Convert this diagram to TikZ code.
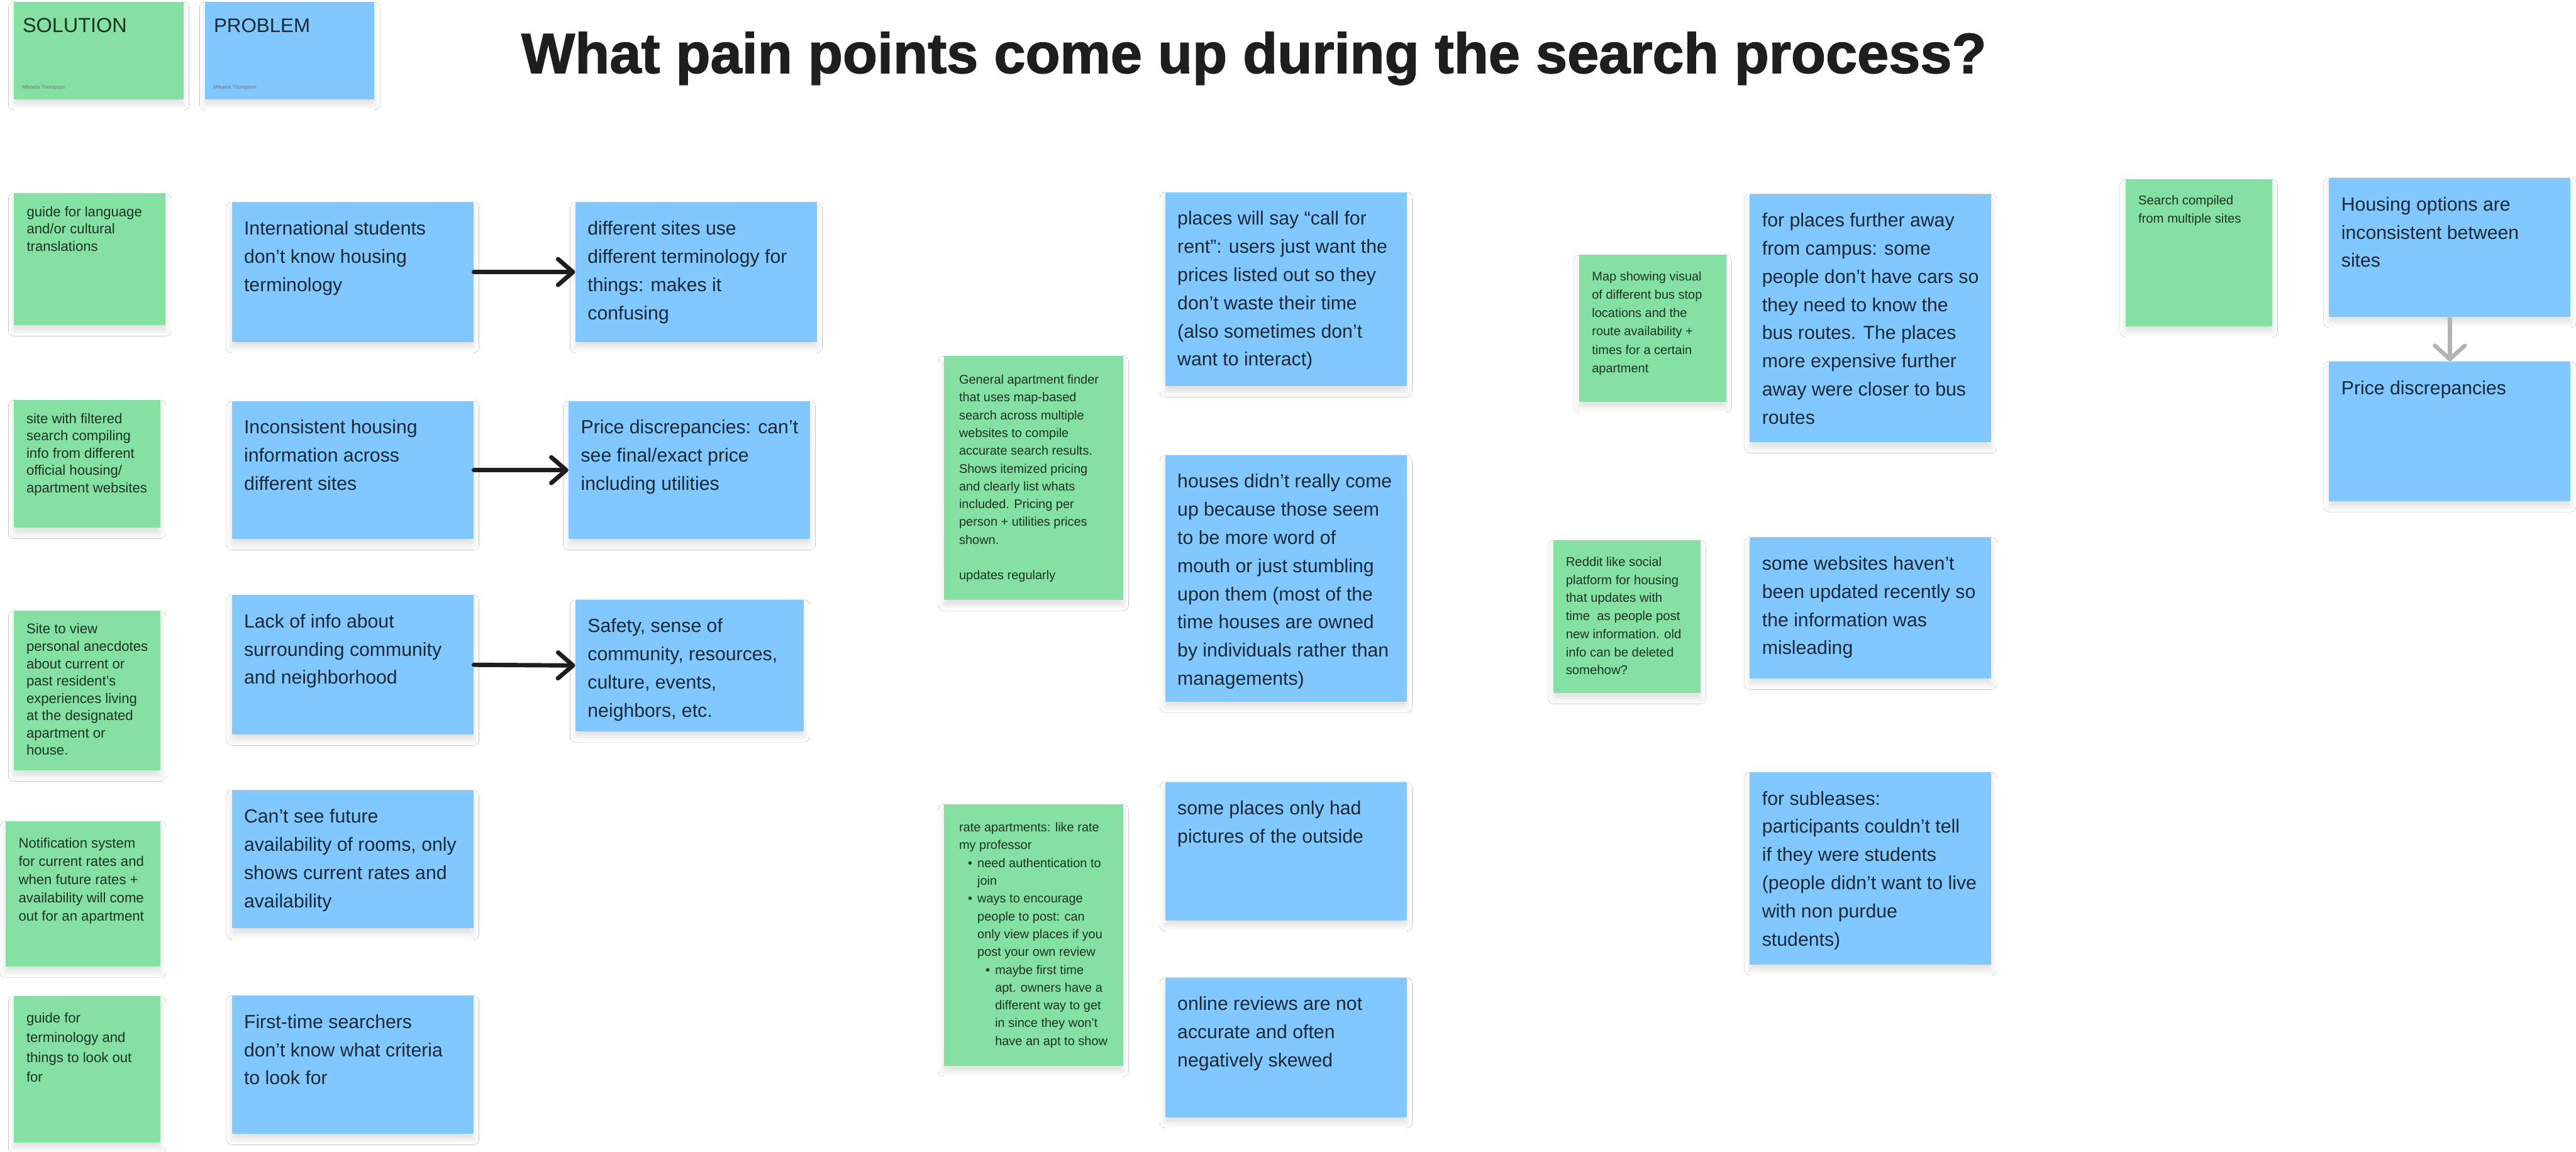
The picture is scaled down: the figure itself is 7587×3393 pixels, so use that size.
\documentclass[tikz,border=0pt]{standalone}
\usepackage{fontspec}
\setmainfont{Liberation Sans}
\newfontfamily\titlefont{Liberation Sans}[BoldFeatures={FakeBold=1.6}]
\usetikzlibrary{arrows.meta,calc,shadows.blur}
\definecolor{sgreen}{HTML}{85E0A3}
\definecolor{sblue}{HTML}{80C8FF}
\definecolor{gtext}{HTML}{1C3322}
\definecolor{btext}{HTML}{1B2836}
\definecolor{arrgray}{HTML}{B3B3B3}
\definecolor{ttext}{HTML}{1E1E1E}
\newcommand\fb{\fontsize{14}{20.75}\selectfont}
\newcommand\fm{\fontsize{9.25}{13.1}\selectfont}
\newcommand\fg[1]{\fontsize{10.25}{#1}\selectfont}
\newcommand\bul[2]{\hspace*{#1}\makebox[7pt][l]{•}#2}
\newcommand\note[6]{\node[#1, minimum width=#5*0.25pt, minimum height=#6*0.25pt] (#2) at (#3,#4) {};}
\newcommand\ntext[6]{\node[#1] (#2) at ($(#3.north west)+(#4,#5)$) {#6};}
\tikzset{
  notebase/.style={rectangle, inner sep=0pt, draw=none, anchor=north west,
    blur shadow={shadow xshift=0pt, shadow yshift=-4pt, shadow blur radius=4pt, shadow opacity=12}},
  gnote/.style={notebase, fill=sgreen},
  bnote/.style={notebase, fill=sblue},
  ntxt/.style={anchor=base west, inner sep=0pt},
  gtxt/.style={ntxt, text=gtext},
  btxt/.style={ntxt, text=btext},
  link/.style={line width=3.2pt, ttext, line cap=round, -{Straight Barb[round, length=11pt, width=19pt]}},
  glink/.style={line width=3pt, arrgray, line cap=round, -{Straight Barb[round, length=10pt, width=22pt]}},
}
\begin{document}
\begin{tikzpicture}[x=0.25pt, y=-0.25pt]
\useasboundingbox (0,0) rectangle (7587,3393);
\fill[white] (0,0) rectangle (7587,3393);

% legend
\note{gnote}{sol}{40}{5}{500}{286}
\ntext{gtxt}{solt}{sol}{26}{91}{\fontsize{15}{18}\selectfont SOLUTION}
\ntext{ntxt, text=black!55}{sola}{sol}{25}{257}{\fontsize{3.75}{4.5}\selectfont Mikaela Thompson}
\note{bnote}{prob}{603}{5}{499}{286}
\ntext{btxt}{probt}{prob}{26}{91}{\fontsize{14.5}{18}\selectfont PROBLEM}
\ntext{ntxt, text=black!55}{proba}{prob}{25}{257}{\fontsize{3.75}{4.5}\selectfont Mikaela Thompson}

% title
\node[anchor=base west, inner sep=0pt, text=ttext, font=\titlefont\bfseries\fontsize{41.75}{50}\selectfont] (title) at (1535,215) {What pain points come up during the search process?};

% left solutions
\note{gnote}{g1}{40}{569}{447}{388}
\ntext{gtxt}{g1t}{g1}{38}{69}{\parbox[t]{110pt}{\fg{12.75}guide for language\\and/or cultural\\translations}}
\note{gnote}{g2}{40}{1178}{432}{376}
\ntext{gtxt}{g2t}{g2}{37}{69}{\parbox[t]{110pt}{\fg{12.75}site with filtered\\search compiling\\info from different\\official housing/\\apartment websites}}
\note{gnote}{g3}{40}{1799}{432}{470}
\ntext{gtxt}{g3t}{g3}{37}{68}{\parbox[t]{110pt}{\fg{12.75}Site to view\\personal anecdotes\\about current or\\past resident’s\\experiences living\\at the designated\\apartment or\\house.}}
\note{gnote}{g4}{15}{2419}{457}{427}
\ntext{gtxt}{g4t}{g4}{39}{78}{\parbox[t]{115pt}{\fg{13.5}Notification system\\for current rates and\\when future rates +\\availability will come\\out for an apartment}}
\note{gnote}{g5}{40}{2934}{432}{431}
\ntext{gtxt}{g5t}{g5}{37}{79}{\parbox[t]{110pt}{\fg{14.5}guide for\\terminology and\\things to look out\\for}}

% problem column 1
\note{bnote}{b1}{682}{595}{712}{411}
\ntext{btxt}{b1t}{b1}{36}{97}{\parbox[t]{175pt}{\fb International students\\don’t know housing\\terminology}}
\note{bnote}{b2}{682}{1181}{712}{406}
\ntext{btxt}{b2t}{b2}{36}{97}{\parbox[t]{175pt}{\fb Inconsistent housing\\information across\\different sites}}
\note{bnote}{b3}{682}{1752}{712}{411}
\ntext{btxt}{b3t}{b3}{36}{97}{\parbox[t]{175pt}{\fb Lack of info about\\surrounding community\\and neighborhood}}
\note{bnote}{b4}{682}{2327}{712}{407}
\ntext{btxt}{b4t}{b4}{36}{97}{\parbox[t]{175pt}{\fb Can’t see future\\availability of rooms, only\\shows current rates and\\availability}}
\note{bnote}{b5}{682}{2932}{712}{407}
\ntext{btxt}{b5t}{b5}{36}{97}{\parbox[t]{175pt}{\fb First-time searchers\\don’t know what criteria\\to look for}}

% problem column 2
\note{bnote}{c1}{1694}{595}{711}{411}
\ntext{btxt}{c1t}{c1}{36}{97}{\parbox[t]{175pt}{\fb different sites use\\different terminology for\\things: makes it\\confusing}}
\note{bnote}{c2}{1674}{1181}{711}{406}
\ntext{btxt}{c2t}{c2}{36}{97}{\parbox[t]{175pt}{\fb Price discrepancies: can’t\\see final/exact price\\including utilities}}
\note{bnote}{c3}{1694}{1766}{673}{387}
\ntext{btxt}{c3t}{c3}{36}{97}{\parbox[t]{165pt}{\fb Safety, sense of\\community, resources,\\culture, events,\\neighbors, etc.}}

\draw[link] (b1.east) -- (c1.west);
\draw[link] (b2.east) -- (c2.west);
\draw[link] (b3.east) -- (c3.west);

% middle solutions
\note{gnote}{m1}{2779}{1048}{528}{718}
\ntext{gtxt}{m1t}{m1}{45}{83}{\parbox[t]{125pt}{\fm General apartment finder\\that uses map-based\\search across multiple\\websites to compile\\accurate search results.\\Shows itemized pricing\\and clearly list whats\\included. Pricing per\\person + utilities prices\\shown.\\\mbox{}\\updates regularly}}
\note{gnote}{m2}{2779}{2369}{528}{769}
\ntext{gtxt}{m2t}{m2}{45}{81}{\parbox[t]{125pt}{\fm rate apartments: like rate\\my professor\\\bul{6.5pt}{need authentication to}\\\hspace*{13.5pt}join\\\bul{6.5pt}{ways to encourage}\\\hspace*{13.5pt}people to post: can\\\hspace*{13.5pt}only view places if you\\\hspace*{13.5pt}post your own review\\\bul{19.5pt}{maybe first time}\\\hspace*{26.5pt}apt. owners have a\\\hspace*{26.5pt}different way to get\\\hspace*{26.5pt}in since they won’t\\\hspace*{26.5pt}have an apt to show}}

% middle problems
\note{bnote}{d1}{3431}{566}{711}{571}
\ntext{btxt}{d1t}{d1}{36}{97}{\parbox[t]{175pt}{\fb places will say “call for\\rent”: users just want the\\prices listed out so they\\don’t waste their time\\(also sometimes don’t\\want to interact)}}
\note{bnote}{d2}{3431}{1340}{711}{726}
\ntext{btxt}{d2t}{d2}{36}{97}{\parbox[t]{175pt}{\fb houses didn’t really come\\up because those seem\\to be more word of\\mouth or just stumbling\\upon them (most of the\\time houses are owned\\by individuals rather than\\managements)}}
\note{bnote}{d3}{3431}{2303}{711}{407}
\ntext{btxt}{d3t}{d3}{36}{97}{\parbox[t]{175pt}{\fb some places only had\\pictures of the outside}}
\note{bnote}{d4}{3431}{2879}{711}{411}
\ntext{btxt}{d4t}{d4}{36}{97}{\parbox[t]{175pt}{\fb online reviews are not\\accurate and often\\negatively skewed}}

% right solutions
\note{gnote}{m3}{4651}{750}{432}{432}
\ntext{gtxt}{m3t}{m3}{37}{77}{\parbox[t]{105pt}{\fontsize{9.25}{13.5}\selectfont Map showing visual\\of different bus stop\\locations and the\\route availability +\\times for a certain\\apartment}}
\note{gnote}{m4}{4575}{1591}{432}{450}
\ntext{gtxt}{m4t}{m4}{36}{77}{\parbox[t]{105pt}{\fontsize{9.4}{13.3}\selectfont Reddit like social\\platform for housing\\that updates with\\time~ as people post\\new information. old\\info can be deleted\\somehow?}}

% right problems
\note{bnote}{e1}{5153}{571}{711}{731}
\ntext{btxt}{e1t}{e1}{36}{97}{\parbox[t]{175pt}{\fb for places further away\\from campus: some\\people don’t have cars so\\they need to know the\\bus routes. The places\\more expensive further\\away were closer to bus\\routes}}
\note{bnote}{e2}{5153}{1582}{711}{416}
\ntext{btxt}{e2t}{e2}{36}{97}{\parbox[t]{175pt}{\fb some websites haven’t\\been updated recently so\\the information was\\misleading}}
\note{bnote}{e3}{5153}{2274}{711}{566}
\ntext{btxt}{e3t}{e3}{36}{97}{\parbox[t]{175pt}{\fb for subleases:\\participants couldn’t tell\\if they were students\\(people didn’t want to live\\with non purdue\\students)}}

% far right
\note{gnote}{m5}{6259}{528}{432}{432}
\ntext{gtxt}{m5t}{m5}{38}{75}{\parbox[t]{105pt}{\fontsize{9.4}{13.5}\selectfont Search compiled\\from multiple sites}}
\note{bnote}{f1}{6859}{523}{711}{409}
\ntext{btxt}{f1t}{f1}{36}{98}{\parbox[t]{175pt}{\fb Housing options are\\inconsistent between\\sites}}
\note{bnote}{f2}{6859}{1064}{711}{411}
\ntext{btxt}{f2t}{f2}{36}{98}{\parbox[t]{175pt}{\fb Price discrepancies}}
\draw[glink] ([yshift=-1.5pt]f1.south) -- (f2.north);
\end{tikzpicture}
\end{document}
